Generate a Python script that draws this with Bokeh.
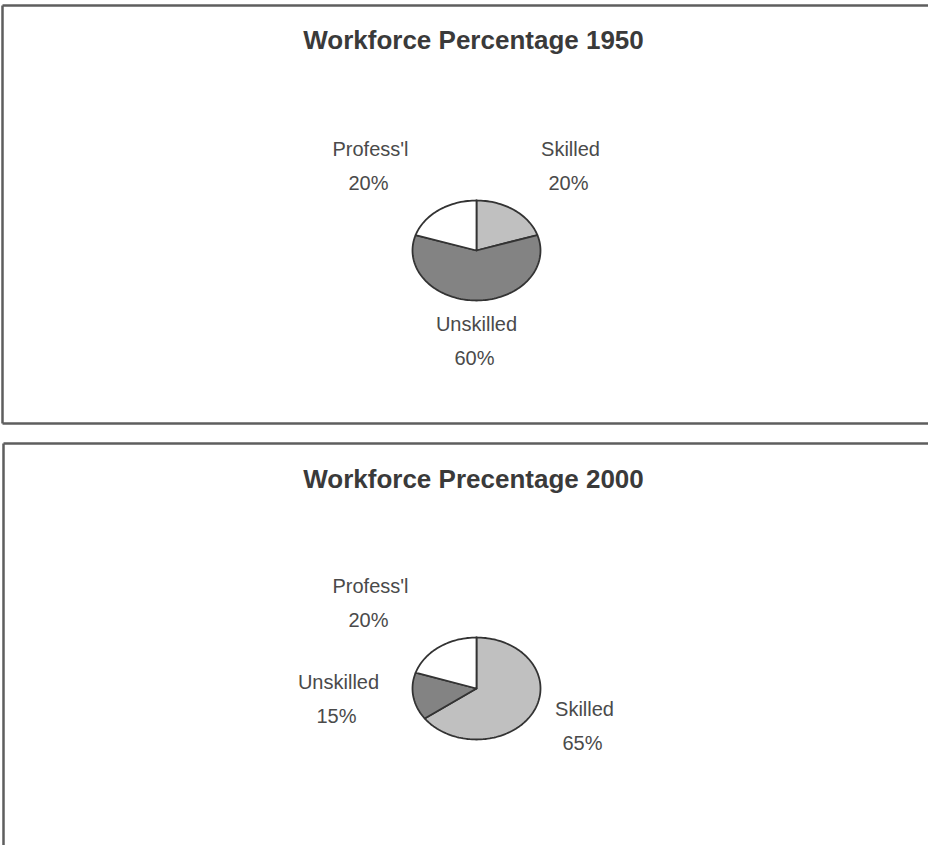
import math
from bokeh.plotting import figure
from bokeh.models import Range1d, ColumnDataSource
from bokeh.embed import file_html
from bokeh.resources import INLINE
from bokeh.core.properties import value

# ---------------- data ----------------
titles = ["Workforce Percentage 1950", "Workforce Precentage 2000"]
categories = ["Skilled", "Unskilled", "Profess'l"]
values_1950 = [20, 60, 20]
values_2000 = [65, 15, 20]

# ---------------- styles / layout ----------------
slice_colors = ["#c0c0c0", "#838383", "#ffffff"]
FONT = "Liberation Sans"
W, H = 928, 845
X0, Y0 = 8, 8  # page margin -> data coordinates equal page pixels

panels = [
    dict(title=titles[0], values=values_1950, cx=484, cy=258, rx=64, ry=50,
         title_y=47,
         label_off=[(94, -102), (0, 73), (-106, -102)]),
    dict(title=titles[1], values=values_2000, cx=484, cy=696, rx=64, ry=51,
         title_y=486,
         label_off=[(108, 20), (-138, -7), (-106, -103)]),
]
LINE_GAP = 34

p = figure(width=W, height=H, output_backend="svg", toolbar_location=None,
           x_range=Range1d(X0, X0 + W), y_range=Range1d(Y0 + H, Y0),
           min_border=0, background_fill_color="white",
           border_fill_color="white", outline_line_color=None)
p.axis.visible = False
p.grid.visible = False

# panel frames (layout)
frame_col = "#5e5e5e"
p.multi_line(xs=[[10, 10], [10, 950], [10, 950], [11, 11], [11, 950]],
             ys=[[13, 431], [13, 13], [431, 431], [451, 870], [451, 451]],
             line_color=frame_col, line_width=2.5)

for pan in panels:
    vals = pan["values"]
    total = float(sum(vals))
    cx, cy, rx, ry = pan["cx"], pan["cy"], pan["rx"], pan["ry"]
    xs, ys = [], []
    start = 0.0
    for v in vals:
        end = start + v / total * 2 * math.pi
        n = max(4, int((end - start) / (2 * math.pi) * 180))
        px, py = [cx], [cy]
        for i in range(n + 1):
            t = start + (end - start) * i / n
            px.append(cx + rx * math.sin(t))
            py.append(cy - ry * math.cos(t))
        xs.append(px)
        ys.append(py)
        start = end
    src = ColumnDataSource(dict(xs=xs, ys=ys, color=slice_colors, cat=categories))
    p.patches("xs", "ys", source=src, fill_color="color",
              line_color="#333333", line_width=1.8, line_join="round")

    # title
    p.text(x=[cx - 3], y=[pan["title_y"]], text=[pan["title"]],
           text_font=value(FONT), text_font_style="bold",
           text_font_size="26px", text_color="#3a3a3a",
           text_align="center", text_baseline="middle")

    # labels
    lx = [cx + o[0] for o in pan["label_off"]]
    ly = [cy + o[1] for o in pan["label_off"]]
    pct = [f"{v}%" for v in vals]
    p.text(x=lx, y=ly, text=categories, text_font=value(FONT),
           text_font_size="20px", text_color="#4a4a4a",
           text_align="center", text_baseline="middle")
    p.text(x=[x - 2 for x in lx], y=[y + LINE_GAP for y in ly], text=pct,
           text_font=value(FONT), text_font_size="20px", text_color="#4a4a4a",
           text_align="center", text_baseline="middle")

open("out.html", "w").write(file_html(p, INLINE))
